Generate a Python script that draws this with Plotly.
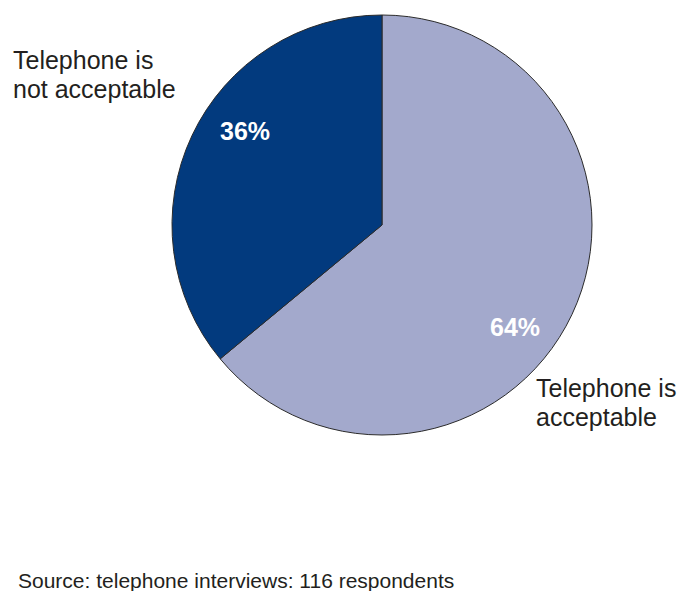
import plotly.graph_objects as go

# Survey result: is a telephone interview acceptable?
categories = ["Telephone is acceptable", "Telephone is not acceptable"]
shares = [64, 36]
colors = ["#a3a9cc", "#023a7e"]
source_note = "Source: telephone interviews: 116 respondents"

W, H = 680, 591
FONT = "Liberation Sans, Arial, Helvetica, sans-serif"

fig = go.Figure(
    go.Pie(
        labels=categories,
        values=shares,
        sort=False,
        direction="clockwise",
        rotation=0,
        marker=dict(colors=colors, line=dict(color="#2b2b2b", width=1)),
        textinfo="none",
        hoverinfo="label+percent",
        showlegend=False,
        domain=dict(x=[172 / W, 592 / W], y=[1 - 435 / H, 1 - 15 / H]),
    )
)

def px(x, y):
    return x / W, 1 - y / H

annotations = []
# percentage labels inside the slices
pct_pos = [(515, 327), (245, 131)]
for (x, y), v in zip(pct_pos, shares):
    ax, ay = px(x, y)
    annotations.append(dict(
        x=ax, y=ay, xref="paper", yref="paper", text=f"<b>{v}%</b>",
        showarrow=False, font=dict(family=FONT, size=25, color="white"),
        xanchor="center", yanchor="middle",
    ))

# category labels outside the pie, one annotation per line for tighter leading
outside = [
    (["Telephone is", "acceptable"], 534, 372),
    (["Telephone is", "not acceptable"], 11, 44),
]
for lines, x, y in outside:
    for i, line in enumerate(lines):
        ax, ay = px(x, y + 29 * i)
        annotations.append(dict(
            x=ax, y=ay, xref="paper", yref="paper", text=line, align="left",
            showarrow=False, font=dict(family=FONT, size=25, color="#231f20"),
            xanchor="left", yanchor="top",
        ))

ax, ay = px(16, 567)
annotations.append(dict(
    x=ax, y=ay, xref="paper", yref="paper", text=source_note, align="left",
    showarrow=False, font=dict(family=FONT, size=21, color="#231f20"),
    xanchor="left", yanchor="top",
))

fig.update_layout(
    width=W, height=H,
    margin=dict(l=0, r=0, t=0, b=0),
    paper_bgcolor="white", plot_bgcolor="white",
    annotations=annotations,
)

fig.write_html("out.html")
